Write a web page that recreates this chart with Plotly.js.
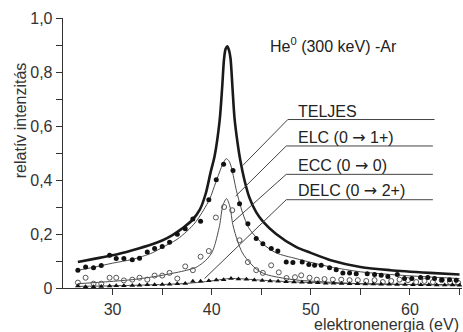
<!DOCTYPE html>
<html><head><meta charset="utf-8">
<script src="https://cdn.plot.ly/plotly-3.0.1.min.js"></script>
<style>html,body{margin:0;padding:0;background:#fff}#chart{width:463px;height:332px}</style>
</head><body><div id="chart"></div>
<script>
// TELJES (total) curve
const teljesX = [26.5, 28, 30, 32, 34, 35, 36, 37, 38, 38.8, 39.4, 39.9, 40.3, 40.8, 41.06, 41.25, 41.4, 41.57, 41.75, 41.9, 42.1, 42.3, 42.6, 42.9, 43.3, 43.8, 44.5, 45.2, 46.5, 48.5, 50, 52, 55, 58, 62, 65];
const teljesY = [0.096, 0.107, 0.121, 0.140, 0.162, 0.176, 0.195, 0.22, 0.25, 0.29, 0.35, 0.43, 0.49, 0.62, 0.745, 0.85, 0.885, 0.895, 0.88, 0.85, 0.74, 0.63, 0.54, 0.47, 0.40, 0.335, 0.28, 0.245, 0.20, 0.152, 0.13, 0.103, 0.078, 0.066, 0.056, 0.05];

// ELC fit line and data
const elcLineX = [26.5, 28, 30, 32, 34, 35, 36.5, 37.5, 38.4, 39.2, 39.8, 40.4, 40.9, 41.2, 41.47, 41.75, 42.0, 42.5, 43.1, 43.7, 44.2, 45.2, 46.5, 48.5, 50, 52, 55, 57, 60, 65];
const elcLineY = [0.066, 0.076, 0.092, 0.106, 0.13, 0.15, 0.18, 0.21, 0.245, 0.29, 0.33, 0.39, 0.44, 0.465, 0.479, 0.47, 0.445, 0.36, 0.28, 0.225, 0.2, 0.162, 0.13, 0.109, 0.095, 0.078, 0.06, 0.053, 0.045, 0.035];
const elcX = [26.50, 27.28, 28.08, 28.86, 29.70, 30.37, 31.14, 31.99, 32.72, 33.50, 34.24, 35.01, 35.75, 36.53, 37.33, 38.10, 38.88, 39.71, 40.46, 41.20, 42.15, 42.81, 43.65, 44.49, 45.16, 46.01, 46.67, 47.52, 48.19, 49.13, 49.80, 50.38, 51.05, 51.89, 52.56, 53.23, 53.91, 54.58, 55.69, 56.43, 57.10, 57.77, 58.72, 59.45, 60.19, 61.07, 61.80, 62.48, 63.22, 63.99, 64.67];
const elcY = [0.066, 0.078, 0.075, 0.083, 0.121, 0.109, 0.109, 0.105, 0.110, 0.133, 0.146, 0.154, 0.169, 0.199, 0.219, 0.256, 0.247, 0.327, 0.401, 0.458, 0.435, 0.312, 0.238, 0.183, 0.164, 0.146, 0.137, 0.096, 0.094, 0.096, 0.087, 0.084, 0.084, 0.075, 0.068, 0.056, 0.056, 0.053, 0.053, 0.050, 0.047, 0.043, 0.050, 0.035, 0.035, 0.039, 0.039, 0.035, 0.031, 0.031, 0.029];

// ECC fit line and data
const eccLineX = [26.5, 29, 32, 34.7, 36.4, 37.5, 38.4, 39.1, 39.6, 40.0, 40.3, 40.8, 41.13, 41.5, 41.85, 42.13, 42.64, 43.1, 43.5, 44.5, 45.5, 48.2, 51.6, 55, 60, 65];
const eccLineY = [0.016, 0.022, 0.031, 0.045, 0.057, 0.066, 0.076, 0.093, 0.11, 0.13, 0.158, 0.232, 0.306, 0.331, 0.3, 0.235, 0.17, 0.13, 0.109, 0.07, 0.05, 0.031, 0.022, 0.016, 0.013, 0.012];
const eccX = [26.50, 27.28, 28.08, 28.86, 29.70, 30.37, 31.14, 31.99, 32.72, 33.50, 34.24, 35.01, 35.75, 36.53, 37.33, 38.10, 38.88, 39.71, 40.42, 41.25, 42.07, 42.81, 43.65, 44.49, 45.16, 46.0, 46.77, 47.55, 48.4, 49.03, 49.87, 50.61, 51.38, 52.22, 53.07, 53.91, 54.74, 55.59, 56.43, 57.26, 58.11, 58.95, 59.79, 60.63, 61.47, 62.31, 63.20, 64.04, 64.87];
const eccY = [0.020, 0.038, 0.016, 0.016, 0.038, 0.038, 0.028, 0.031, 0.038, 0.031, 0.046, 0.046, 0.056, 0.035, 0.080, 0.066, 0.116, 0.137, 0.261, 0.300, 0.288, 0.177, 0.096, 0.066, 0.056, 0.084, 0.058, 0.037, 0.040, 0.047, 0.038, 0.031, 0.033, 0.031, 0.031, 0.029, 0.029, 0.026, 0.029, 0.022, 0.026, 0.031, 0.029, 0.022, 0.026, 0.022, 0.029, 0.022, 0.019];

// DELC fit line and data
const delcLineX = [26.5, 30, 34, 37, 39, 40.5, 41.8, 43, 45, 48, 52, 56, 60, 65];
const delcLineY = [0.006, 0.008, 0.012, 0.016, 0.022, 0.029, 0.035, 0.034, 0.029, 0.023, 0.018, 0.015, 0.013, 0.011];
const delcX = [26.5, 27.28, 28.08, 28.86, 29.70, 30.37, 31.14, 31.99, 32.72, 33.50, 34.24, 35.01, 35.75, 36.53, 37.33, 38.10, 38.88, 39.71, 40.46, 41.20, 41.95, 42.7, 43.5, 44.3, 45.1, 45.9, 46.7, 47.5, 48.3, 49.1, 49.9, 50.7, 51.5, 52.3, 53.1, 53.9, 54.7, 55.5, 56.3, 57.1, 57.9, 58.7, 59.5, 60.3, 61.1, 61.9, 62.7, 63.5, 64.3, 65.0];
const delcY = [0.007, 0.005, 0.005, 0.006, 0.007, 0.008, 0.008, 0.009, 0.010, 0.012, 0.012, 0.013, 0.014, 0.016, 0.017, 0.025, 0.025, 0.027, 0.030, 0.031, 0.035, 0.033, 0.032, 0.030, 0.028, 0.026, 0.025, 0.023, 0.022, 0.021, 0.020, 0.019, 0.018, 0.018, 0.017, 0.016, 0.016, 0.015, 0.015, 0.014, 0.014, 0.013, 0.013, 0.012, 0.012, 0.012, 0.011, 0.011, 0.011, 0.010];

// Labels and leader lines (label corner -> point on curve)
const ARROW = '<span style="font-family:DejaVu Sans">\u2192</span>';
const labelTexts = ["TELJES", "ELC (0 " + ARROW + " 1+)", "ECC (0 " + ARROW + " 0)", "DELC (0 " + ARROW + " 2+)"];
const labelTextY = [0.652, 0.559, 0.454, 0.362];
const labelLineY = [0.624, 0.526, 0.421, 0.327];
const labelLineX0 = [47.68, 47.52, 47.52, 47.52];
const labelLineX1 = [62.48, 62.31, 62.31, 62.31];
const leaderEndX = [43.14, 42.41, 42.13, 39.28];
const leaderEndY = [0.454, 0.340, 0.244, 0.035];
const labelTextX = 48.5;

const xTickVals = [30, 40, 50, 60];
const xTickText = ["30", "40", "50", "60"];
const yTickVals = [0, 0.2, 0.4, 0.6, 0.8, 1.0];
const yTickText = ["0", "0,2", "0,4", "0,6", "0,8", "1,0"];

const FONT = "Liberation Sans, Arial, Helvetica, sans-serif";
const thin = {color: "#4a4a4a", width: 1, shape: "spline", smoothing: 0.8};

const traces = [
  {x: elcLineX, y: elcLineY, mode: "lines", line: thin},
  {x: eccLineX, y: eccLineY, mode: "lines", line: thin},
  {x: delcLineX, y: delcLineY, mode: "lines", line: thin},
  {x: teljesX, y: teljesY, mode: "lines", line: {color: "#1a1a1a", width: 2.6, shape: "spline", smoothing: 0.8}},
  {x: eccX, y: eccY, mode: "markers", marker: {symbol: "circle-open", size: 5, color: "#555", line: {width: 1, color: "#555"}}},
  {x: delcX, y: delcY, mode: "markers", marker: {symbol: "triangle-up", size: 5, color: "#111"}},
  {x: elcX, y: elcY, mode: "markers", marker: {symbol: "circle", size: 5, color: "#111"}}
];

const shapes = [];
const annotations = [];
for (let i = 0; i < labelTexts.length; i++) {
  shapes.push({type: "line", xref: "x", yref: "y", x0: labelLineX0[i], y0: labelLineY[i], x1: labelLineX1[i], y1: labelLineY[i], line: {color: "#444", width: 1}});
  shapes.push({type: "line", xref: "x", yref: "y", x0: labelLineX0[i], y0: labelLineY[i], x1: leaderEndX[i], y1: leaderEndY[i], line: {color: "#444", width: 1}});
  annotations.push({xref: "x", yref: "y", x: labelTextX, y: labelTextY[i], text: labelTexts[i], showarrow: false, xanchor: "left", yanchor: "middle", font: {family: FONT, size: 16, color: "#222"}});
}
annotations.push({xref: "x", yref: "y", x: 45.66, y: 0.899, text: "He<sup>0</sup> (300 keV) -Ar", showarrow: false, xanchor: "left", yanchor: "middle", font: {family: FONT, size: 16, color: "#222"}});
annotations.push({xref: "paper", yref: "paper", x: -0.108, y: 0.621, text: "relatív intenzitás", textangle: -90, showarrow: false, xanchor: "center", yanchor: "middle", font: {family: FONT, size: 16, color: "#333"}});
annotations.push({xref: "paper", yref: "paper", x: 0.997, y: -0.134, text: "elektronenergia (eV)", showarrow: false, xanchor: "right", yanchor: "middle", font: {family: FONT, size: 16, color: "#333"}});

const layout = {
  width: 463, height: 332,
  margin: {l: 63, r: 1, t: 18, b: 44},
  paper_bgcolor: "#fff", plot_bgcolor: "#fff",
  showlegend: false,
  font: {family: FONT, size: 16, color: "#333"},
  xaxis: {range: [25, 65.25], showline: true, linecolor: "#333", linewidth: 1.3, showgrid: false, zeroline: false,
          tickmode: "array", tickvals: xTickVals, ticktext: xTickText, ticks: "outside", ticklen: 6, tickcolor: "#333",
          minor: {tickmode: "array", tickvals: [35, 45, 55, 65], ticks: "outside", ticklen: 6, tickcolor: "#333"},
          tickfont: {family: FONT, size: 16, color: "#333"}},
  yaxis: {range: [0, 1.0], showline: true, linecolor: "#333", linewidth: 1.3, showgrid: false, zeroline: false,
          tickmode: "array", tickvals: yTickVals, ticktext: yTickText, ticks: "outside", ticklen: 6, tickcolor: "#333",
          minor: {tickmode: "array", tickvals: [0.1, 0.3, 0.5, 0.7, 0.9], ticks: "outside", ticklen: 6, tickcolor: "#333"},
          tickfont: {family: FONT, size: 16, color: "#333"}},
  shapes: shapes,
  annotations: annotations
};

Plotly.newPlot("chart", traces, layout, {displayModeBar: false, staticPlot: true});
</script>
</body></html>
